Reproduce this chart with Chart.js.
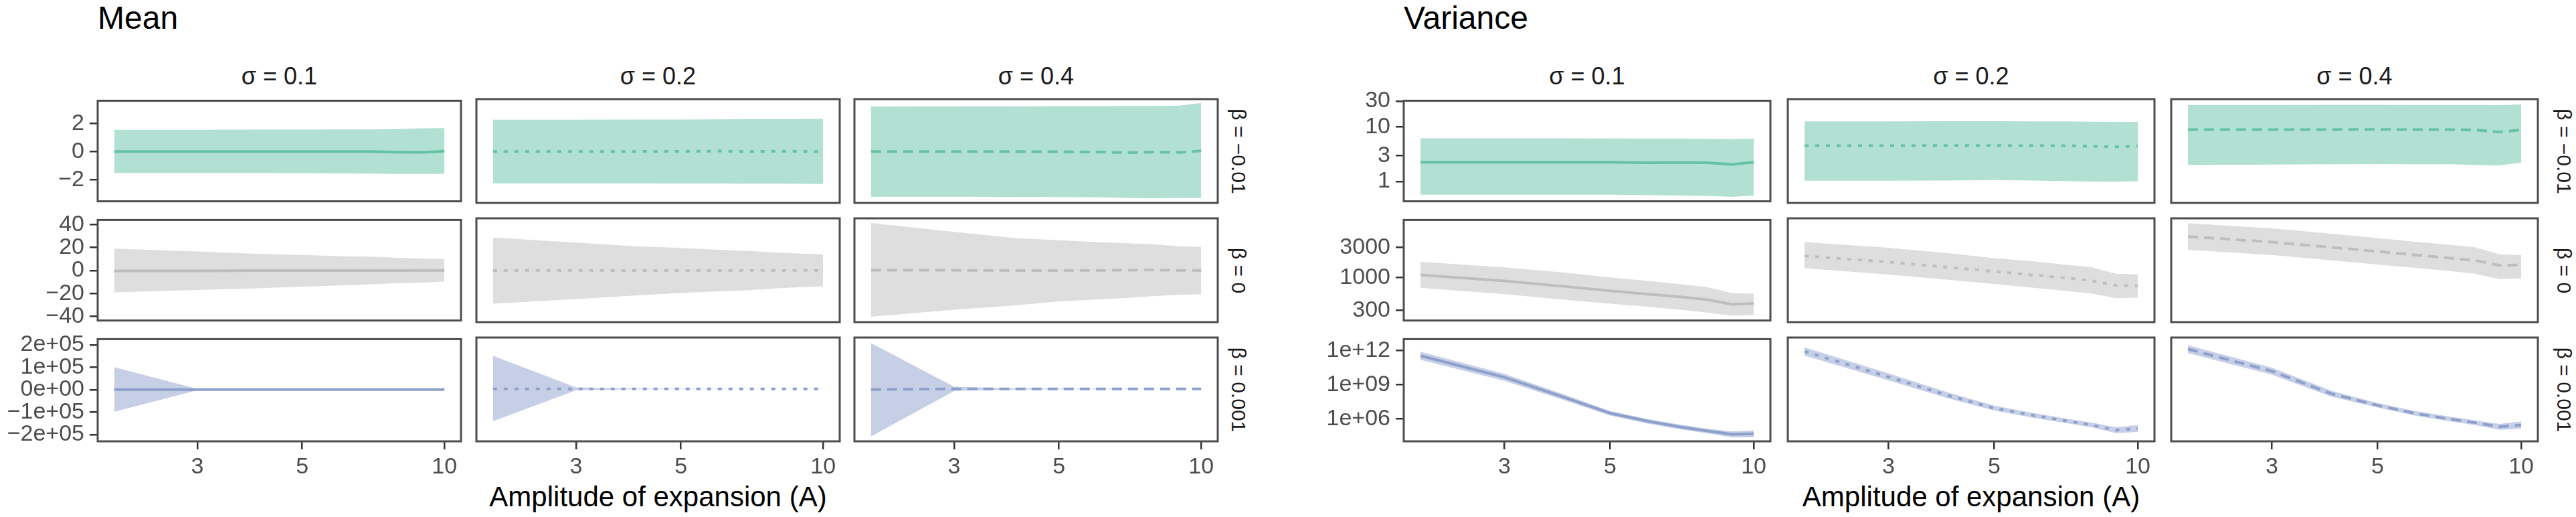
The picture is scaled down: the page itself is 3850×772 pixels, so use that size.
<!DOCTYPE html>
<html>
<head>
<meta charset="utf-8">
<script src="https://cdn.jsdelivr.net/npm/chart.js@4.4.1/dist/chart.umd.min.js"></script>
<style>
  body { margin: 0; background: #fff; }
  #page { position: relative; width: 3850px; height: 772px; overflow: hidden; background: #fff;
          font-family: "Liberation Sans", Arial, sans-serif; }
  #page canvas { position: absolute; }
  .txt { position: absolute; white-space: nowrap; color: #1a1a1a; line-height: 1; }
  .title { font-size: 48px; color: #000; }
  .strip { font-size: 36px; transform: translate(-50%, -50%); }
  .beta { font-size: 30px; transform: translate(-50%, -50%) rotate(90deg); }
  .xtitle { font-size: 42px; color: #000; transform: translate(-50%, -50%); }
</style>
</head>
<body>
<div id="page"></div>
<script>
// ---------------------------------------------------------------
// données (A = amplitude de l'expansion)
// ---------------------------------------------------------------
const amplitudes = [2, 3, 4, 5, 6, 7, 8, 9, 10];
const sigmaLabels = ['σ = 0.1', 'σ = 0.2', 'σ = 0.4'];
const betaLabels = ['β = −0.01', 'β = 0', 'β = 0.001'];
const xTicks = [3, 5, 10];
const xTitle = 'Amplitude of expansion (A)';

// Mean, β = -0.01 (une ligne par σ : 0.1, 0.2, 0.4)
const meanNegMid = [
  [0, 0, 0, 0.01, 0, 0, -0.04, -0.05, 0.03],
  [0, 0, 0.01, 0.02, 0.04, 0, 0.03, 0.02, -0.02],
  [0, 0, 0, -0.01, -0.03, -0.08, -0.03, -0.06, 0.05]
];
const meanNegLo = [
  [-1.52, -1.53, -1.53, -1.54, -1.55, -1.57, -1.6, -1.6, -1.59],
  [-2.2, -2.2, -2.2, -2.21, -2.21, -2.22, -2.22, -2.23, -2.24],
  [-3.12, -3.12, -3.13, -3.14, -3.16, -3.2, -3.23, -3.2, -3.2]
];
const meanNegHi = [
  [1.56, 1.56, 1.57, 1.57, 1.58, 1.58, 1.6, 1.66, 1.68],
  [2.2, 2.21, 2.22, 2.22, 2.23, 2.24, 2.24, 2.25, 2.25],
  [3.12, 3.13, 3.13, 3.14, 3.14, 3.15, 3.16, 3.18, 3.36]
];

// Mean, β = 0
const meanZeroMid = [
  [-0.4, -0.3, -0.1, 0, 0, 0, 0, 0.1, 0],
  [0, 0.1, 0, -0.1, 0, 0.1, 0, 0.2, 0],
  [0.3, 0.2, 0, 0, 0.1, 0.3, 0.5, 0.1, 0]
];
const meanZeroLo = [
  [-19, -17, -15.5, -14, -13, -12, -11, -10.5, -9.5],
  [-28, -24, -21, -19, -17.5, -16.5, -15, -14, -13.5],
  [-39, -33, -29.5, -26, -24.5, -23, -21.5, -20.5, -20]
];
const meanZeroHi = [
  [19, 16.5, 14.5, 13.5, 12.5, 12, 11, 10.5, 10],
  [27.7, 23.5, 20.5, 19, 17.5, 16.5, 15, 14.2, 13.7],
  [40, 32.5, 27.5, 25.5, 24, 23, 22, 20.5, 20]
];

// Mean, β = 0.001
const meanPosMid = [
  [0, 0, 0, 0, 0, 0, 0, 0, 0],
  [0, 0, 0, 0, 0, 0, 0, 0, 0],
  [-3000, 0, 0, 0, 0, 0, 0, 0, 0]
];
const meanPosLo = [
  [-98000, -3000, -1000, -800, -600, -500, -400, -300, -300],
  [-142000, -6000, -1500, -1000, -800, -600, -500, -400, -400],
  [-209000, -9000, -3000, -1500, -1000, -800, -600, -500, -500]
];
const meanPosHi = [
  [100000, 3000, 1000, 800, 600, 500, 400, 300, 300],
  [145000, 6000, 1500, 1000, 800, 600, 500, 400, 400],
  [201000, 9000, 3000, 1500, 1000, 800, 600, 500, 500]
];

// Variance, β = -0.01
const varNegMid = [
  [2.25, 2.25, 2.25, 2.25, 2.2, 2.22, 2.2, 2.05, 2.25],
  [4.5, 4.5, 4.55, 4.55, 4.5, 4.5, 4.4, 4.3, 4.45],
  [8.7, 8.7, 8.75, 8.8, 8.7, 8.7, 8.6, 7.9, 8.6]
];
const varNegLo = [
  [0.57, 0.57, 0.57, 0.57, 0.56, 0.55, 0.54, 0.52, 0.55],
  [1.07, 1.07, 1.08, 1.1, 1.08, 1.06, 1.03, 1.02, 1.05],
  [2.05, 2.07, 2.1, 2.12, 2.1, 2.1, 2.05, 2.0, 2.25]
];
const varNegHi = [
  [6.2, 6.2, 6.2, 6.15, 6.1, 6.1, 6.05, 6.0, 6.1],
  [12.2, 12.2, 12.3, 12.3, 12.2, 12.2, 12.1, 12.0, 12.0],
  [24, 24, 24.2, 24.2, 24, 24, 24, 23.8, 24.5]
];

// Variance, β = 0
const varZeroMid = [
  [1100, 880, 720, 610, 540, 490, 440, 372, 385],
  [2170, 1750, 1450, 1250, 1100, 1000, 900, 760, 750],
  [4340, 3550, 2950, 2550, 2250, 2030, 1850, 1550, 1570]
];
const varZeroLo = [
  [685, 540, 440, 380, 340, 305, 275, 245, 250],
  [1400, 1120, 930, 800, 700, 630, 570, 480, 490],
  [2700, 2250, 1850, 1600, 1420, 1280, 1150, 950, 975]
];
const varZeroHi = [
  [1775, 1450, 1200, 1000, 880, 780, 700, 560, 550],
  [3550, 2900, 2400, 2000, 1800, 1600, 1450, 1150, 1125],
  [7000, 5800, 4800, 4100, 3600, 3250, 2950, 2300, 2250]
];

// Variance, β = 0.001
const varPosMid = [
  [3.5e11, 4.5e9, 8e7, 3.2e6, 6.3e5, 2e5, 9e4, 4.5e4, 5e4],
  [6.3e11, 4e9, 1e8, 8e6, 2e6, 7e5, 2.8e5, 1e5, 1.4e5],
  [1e12, 1.25e10, 1.4e8, 1.4e7, 2.8e6, 1e6, 4.5e5, 2e5, 2.8e5]
];
const varPosLo = [
  [1.55e11, 2.2e9, 4.5e7, 2e6, 4e5, 1.25e5, 5.6e4, 2.5e4, 2.5e4],
  [2.8e11, 2e9, 5.6e7, 5e6, 1.25e6, 4.4e5, 1.8e5, 5.6e4, 7e4],
  [4.5e11, 6.3e9, 8e7, 9e6, 1.8e6, 6.3e5, 2.8e5, 1.1e5, 1.4e5]
];
const varPosHi = [
  [7.8e11, 9e9, 1.4e8, 5e6, 1e6, 3.2e5, 1.4e5, 8e4, 1e5],
  [1.4e12, 8e9, 1.8e8, 1.3e7, 3.2e6, 1.1e6, 4.5e5, 1.8e5, 2.8e5],
  [2.2e12, 2.5e10, 2.5e8, 2.2e7, 4.5e6, 1.6e6, 7e5, 3.5e5, 5.6e5]
];

// graduations de l'axe y, par ligne de facettes
const meanYTicks = [[-2, 0, 2], [-40, -20, 0, 20, 40], [-2e5, -1e5, 0, 1e5, 2e5]];
const varYTicks = [[1, 3, 10, 30], [300, 1000, 3000], [1e6, 1e9, 1e12]];

// ---------------------------------------------------------------
// mise en page (pixels) et styles
// ---------------------------------------------------------------
const FONT = '"Liberation Sans", Arial, sans-serif';
const TICK_SIZE = 34;
const PAD = 26;       // marge autour de chaque canvas
const YW = 140;       // largeur de l'axe y (colonne de gauche)
const XH = 62;        // hauteur de l'axe x (ligne du bas)
const PANEL_H = 155;
const rowTops = [148, 326, 504];
const X_MIN = 1.845, X_MAX = 10.84;   // échelle log + expansion 5 %

const lineColors = ['#66C2A5', '#BEBEBE', '#8DA0CB'];
const bandColors = ['rgba(102,194,165,0.5)', 'rgba(190,190,190,0.5)', 'rgba(141,160,203,0.5)'];
const dashes = [[], [6, 10], [15, 9]];  // σ = 0.1 plein, 0.2 pointillé, 0.4 tirets

const minus = s => s.replace('-', '\u2212');

function plainFmt(v) {
  return minus(String(v));
}

// format "2e+05" à la manière de R
function sciFmt(v) {
  if (v === 0) return '0e+00';
  const e = Math.floor(Math.log10(Math.abs(v)) + 1e-9);
  const m = Math.round(v / Math.pow(10, e));
  return (m < 0 ? '\u2212' : '') + Math.abs(m) + 'e+' + String(e).padStart(2, '0');
}

const blocks = [
  {
    title: 'Mean', cols: [146, 712, 1277], w: 543, betaX: 1851,
    rows: [
      { type: 'linear', min: -3.55, max: 3.63, ticks: meanYTicks[0], fmt: plainFmt, mid: meanNegMid, lo: meanNegLo, hi: meanNegHi },
      { type: 'linear', min: -43.5, max: 44, ticks: meanYTicks[1], fmt: plainFmt, mid: meanZeroMid, lo: meanZeroLo, hi: meanZeroHi },
      { type: 'linear', min: -2.3e5, max: 2.25e5, ticks: meanYTicks[2], fmt: sciFmt, mid: meanPosMid, lo: meanPosLo, hi: meanPosHi }
    ]
  },
  {
    title: 'Variance', cols: [2098, 2672, 3245], w: 548, betaX: 3832,
    rows: [
      { type: 'logarithmic', min: 0.43, max: 30.5, ticks: varYTicks[0], fmt: plainFmt, mid: varNegMid, lo: varNegLo, hi: varNegHi },
      { type: 'logarithmic', min: 205, max: 8300, ticks: varYTicks[1], fmt: plainFmt, mid: varZeroMid, lo: varZeroLo, hi: varZeroHi },
      { type: 'logarithmic', min: 1.1e4, max: 1e13, ticks: varYTicks[2], fmt: sciFmt, mid: varPosMid, lo: varPosLo, hi: varPosHi }
    ]
  }
];

const page = document.getElementById('page');

// cadre gris autour de chaque facette
const panelBox = {
  id: 'panelBox',
  afterDraw(chart) {
    const a = chart.chartArea;
    const ctx = chart.ctx;
    ctx.save();
    ctx.strokeStyle = '#4d4d4d';
    ctx.lineWidth = 3;
    ctx.strokeRect(a.left, a.top, a.right - a.left, a.bottom - a.top);
    ctx.restore();
  }
};

function addText(cls, text, x, y) {
  const d = document.createElement('div');
  d.className = 'txt ' + cls;
  d.textContent = text;
  d.style.left = x + 'px';
  d.style.top = y + 'px';
  page.appendChild(d);
}

function toPoints(values) {
  return values.map((v, i) => ({ x: amplitudes[i], y: v }));
}

function axisGrid() {
  return {
    display: true,
    drawOnChartArea: false,
    drawTicks: true,
    tickLength: 12,
    color: '#333',
    lineWidth: 2.5
  };
}

/**
 * une facette = un canvas Chart.js
 */
function makePanel(block, r, c) {
  const row = block.rows[r];
  const isLeft = c === 0;
  const isBottom = r === 2;

  const canvas = document.createElement('canvas');
  const w = PAD * 2 + block.w + (isLeft ? YW : 0);
  const h = PAD * 2 + PANEL_H + (isBottom ? XH : 0);
  canvas.width = w;
  canvas.height = h;
  canvas.style.width = w + 'px';
  canvas.style.height = h + 'px';
  canvas.style.left = (block.cols[c] - PAD - (isLeft ? YW : 0)) + 'px';
  canvas.style.top = (rowTops[r] - PAD) + 'px';
  page.appendChild(canvas);

  const datasets = [
    {   // courbe centrale
      data: toPoints(row.mid[c]),
      borderColor: lineColors[r],
      borderWidth: 4,
      borderDash: dashes[c],
      pointRadius: 0,
      fill: false,
      tension: 0
    },
    {   // bord haut de l'intervalle, rempli jusqu'au bord bas
      data: toPoints(row.hi[c]),
      borderWidth: 0,
      borderColor: 'rgba(0,0,0,0)',
      backgroundColor: bandColors[r],
      pointRadius: 0,
      fill: '+1',
      tension: 0
    },
    {   // bord bas
      data: toPoints(row.lo[c]),
      borderWidth: 0,
      borderColor: 'rgba(0,0,0,0)',
      pointRadius: 0,
      fill: false,
      tension: 0
    }
  ];

  new Chart(canvas.getContext('2d'), {
    type: 'line',
    data: { datasets: datasets },
    plugins: [panelBox],
    options: {
      responsive: false,
      animation: false,
      devicePixelRatio: 1,
      layout: { padding: PAD },
      plugins: { legend: { display: false }, tooltip: { enabled: false } },
      scales: {
        x: {
          type: 'logarithmic',
          min: X_MIN,
          max: X_MAX,
          bounds: 'data',
          display: isBottom,
          afterBuildTicks: s => { s.ticks = xTicks.map(v => ({ value: v })); },
          // afterFit est appelé même si l'axe est caché
          afterFit: s => { s.height = isBottom ? XH : 0; },
          grid: axisGrid(),
          border: { display: false },
          ticks: {
            font: { family: FONT, size: TICK_SIZE },
            color: '#4d4d4d',
            padding: 6,
            maxRotation: 0,
            autoSkip: false,
            callback: v => String(v)
          }
        },
        y: {
          type: row.type,
          min: row.min,
          max: row.max,
          bounds: 'data',
          display: isLeft,
          afterBuildTicks: s => { s.ticks = row.ticks.map(v => ({ value: v })); },
          afterFit: s => { s.width = isLeft ? YW : 0; },
          grid: axisGrid(),
          border: { display: false },
          ticks: {
            font: { family: FONT, size: TICK_SIZE },
            color: '#4d4d4d',
            padding: 8,
            autoSkip: false,
            callback: v => row.fmt(v)
          }
        }
      }
    }
  });
}

// construction de la figure
blocks.forEach(block => {
  addText('title', block.title, block.cols[0], 3);
  sigmaLabels.forEach((lab, c) => {
    addText('strip', lab, block.cols[c] + block.w / 2, 114);
  });
  betaLabels.forEach((lab, r) => {
    addText('beta', lab, block.betaX, rowTops[r] + PANEL_H / 2);
  });
  addText('xtitle', xTitle, block.cols[1] + block.w / 2, 742);
  for (let r = 0; r < 3; r++) {
    for (let c = 0; c < 3; c++) {
      makePanel(block, r, c);
    }
  }
});
</script>
</body>
</html>
